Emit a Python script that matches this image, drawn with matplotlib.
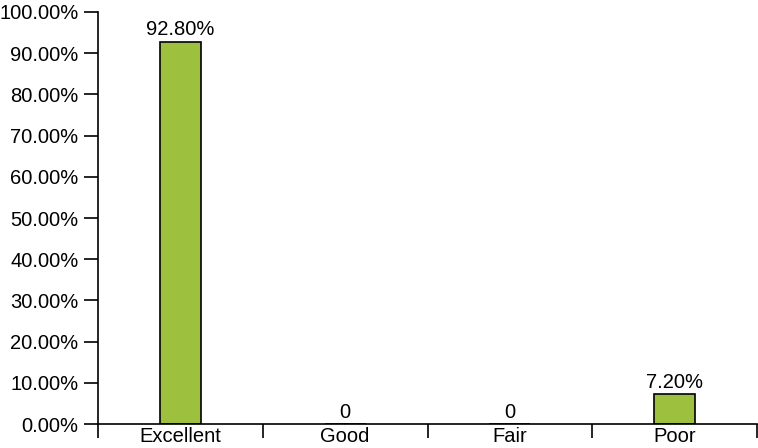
import numpy as np
import matplotlib.pyplot as plt
from matplotlib.ticker import FixedLocator, NullFormatter, FixedFormatter

plt.rcParams['font.family'] = ['Liberation Sans', 'DejaVu Sans']

categories = ['Excellent', 'Good', 'Fair', 'Poor']
values = [92.8, 0, 0, 7.2]
value_labels = ['92.80%', '0', '0', '7.20%']

fs = 14.5
fig = plt.figure(figsize=(7.58, 4.48), dpi=100)
ax = fig.add_axes([98/758, 24/448, 659/758, 412/448])

x = np.arange(len(categories)) + 0.5
ax.bar(x, values, width=0.25, color='#9dc03f', edgecolor='black', linewidth=1.2)
for xi, v, lab in zip(x, values, value_labels):
    ax.text(xi, v + 0.6, lab, ha='center', va='bottom', fontsize=fs)

ax.set_xlim(0, len(categories))
ax.set_ylim(0, 100)
ax.set_yticks(np.arange(0, 101, 10))
ax.set_yticklabels(['%.2f%%' % t for t in np.arange(0, 101, 10)], fontsize=fs)

ax.xaxis.set_major_locator(FixedLocator(np.arange(len(categories) + 1)))
ax.xaxis.set_major_formatter(NullFormatter())
ax.xaxis.set_minor_locator(FixedLocator(x))
ax.xaxis.set_minor_formatter(FixedFormatter(categories))
ax.tick_params(axis='x', which='major', length=10, width=1.2)
ax.tick_params(axis='x', which='minor', length=0, labelsize=fs, pad=2)
ax.tick_params(axis='y', length=10, width=1.2, pad=4)

for s in ['top', 'right']:
    ax.spines[s].set_visible(False)
for s in ['left', 'bottom']:
    ax.spines[s].set_linewidth(1.2)

fig.savefig('out.png', dpi=100)
